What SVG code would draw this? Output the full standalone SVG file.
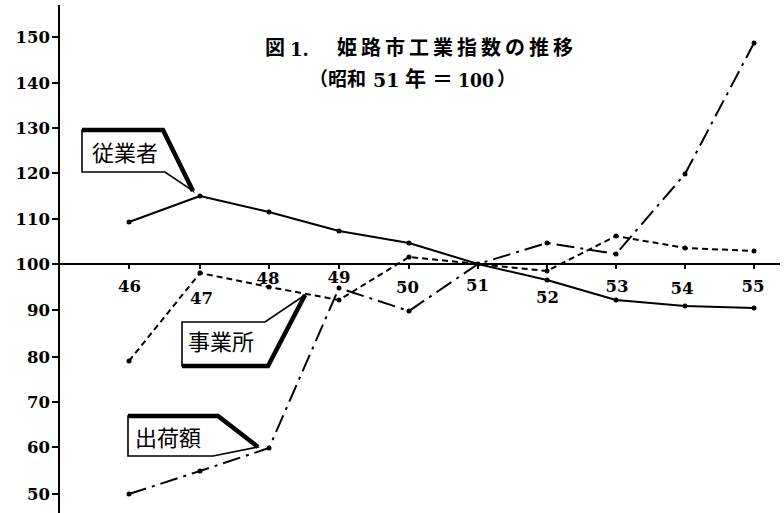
<svg xmlns="http://www.w3.org/2000/svg" width="784" height="513" viewBox="0 0 784 513">
<style>
.num{font-family:"DejaVu Serif","Liberation Serif",serif;font-weight:bold;font-size:16.5px;fill:#000}
.ttl{font-family:"Noto Sans CJK JP","Noto Sans",sans-serif;font-weight:bold;font-size:20px;fill:#000}
.lbl{font-family:"Noto Sans CJK JP","Noto Sans",sans-serif;font-size:22px;fill:#000}
.ax{stroke:#000;stroke-width:2;fill:none}
.ser{fill:none;stroke:#000;stroke-width:2;stroke-linejoin:round}
.s1{}
.s2{stroke-dasharray:6 4}
.s3{stroke-dasharray:18 6 3 6}
.thin{fill:#fff;stroke:#000;stroke-width:1.6;stroke-linejoin:miter}
.thick{fill:none;stroke:#000;stroke-width:4.5;stroke-linejoin:miter}
.pt{fill:#000}
</style>
<rect width="784" height="513" fill="#fff"/>
<g id="axes">
<line class="ax" x1="59" y1="5" x2="59" y2="513"/>
<line class="ax" x1="59" y1="264" x2="780" y2="264"/>
<path class="ax" stroke-width="1.5" d="M52,37H59M52,83H59M52,128H59M52,173H59M52,219H59M52,264H59M52,310H59M52,357H59M52,402H59M52,447H59M52,494H59"/>
<path class="ax" stroke-width="1.5" d="M129,264V269M200,264V269M269,264V269M339,264V269M409,264V269M478,264V269M547,264V269M616,264V269M685,264V269M754,264V269"/>
<g class="num" text-anchor="end">
<text x="50" y="43">150</text>
<text x="50" y="89">140</text>
<text x="50" y="134">130</text>
<text x="50" y="179">120</text>
<text x="50" y="225">110</text>
<text x="50" y="270">100</text>
<text x="50" y="316">90</text>
<text x="50" y="363">80</text>
<text x="50" y="408">70</text>
<text x="50" y="453">60</text>
<text x="50" y="500">50</text>
</g>
<g class="num" text-anchor="middle">
<text x="129.5" y="292">46</text>
<text x="201.5" y="304">47</text>
<text x="268" y="284">48</text>
<text x="339" y="283">49</text>
<text x="407.5" y="293">50</text>
<text x="477.5" y="291">51</text>
<text x="547.5" y="303">52</text>
<text x="617" y="292">53</text>
<text x="682" y="294">54</text>
<text x="753" y="292">55</text>
</g>
</g>
<g id="title">
<text class="ttl" x="265" y="55">図</text>
<text class="num" x="290" y="56" style="font-size:18px">1.</text>
<text class="ttl" x="337" y="55" textLength="236" lengthAdjust="spacing">姫路市工業指数の推移</text>
<text class="ttl" x="309" y="86" style="font-size:19px">（昭和</text>
<text class="num" x="373" y="87" style="font-size:19px">51</text>
<text class="ttl" x="405" y="86" style="font-size:21px">年</text>
<text class="ttl" x="432" y="86" style="font-size:21px">＝</text>
<text class="num" x="458" y="87" style="font-size:19px" textLength="36" lengthAdjust="spacingAndGlyphs">100</text>
<text class="ttl" x="497" y="86" style="font-size:19px">）</text>
</g>
<g id="connectors">
<polyline id="series-jugyosha" class="ser s1" points="129,222 200,196 269,212 339,231 409,243 478,264 547,280 616,300 685,306 754,308"/>
<polyline id="series-jigyosho" class="ser s2" points="129,361 200,273 269,287 339,300 409,257 478,264 547,271 616,236 685,248 754,251"/>
<polyline id="series-shukkagaku" class="ser s3" points="129,494 200,471 269,448 339,288 409,311 478,264 547,243 616,254 685,174 754,43"/>
<g class="pt">
<circle cx="129" cy="222" r="2.5"/><circle cx="200" cy="196" r="2.5"/><circle cx="269" cy="212" r="2.5"/><circle cx="339" cy="231" r="2.5"/><circle cx="409" cy="243" r="2.5"/><circle cx="478" cy="264" r="2.5"/><circle cx="547" cy="280" r="2.5"/><circle cx="616" cy="300" r="2.5"/><circle cx="685" cy="306" r="2.5"/><circle cx="754" cy="308" r="2.5"/>
<circle cx="129" cy="361" r="2.5"/><circle cx="200" cy="273" r="2.5"/><circle cx="269" cy="287" r="2.5"/><circle cx="339" cy="300" r="2.5"/><circle cx="409" cy="257" r="2.5"/><circle cx="547" cy="271" r="2.5"/><circle cx="616" cy="236" r="2.5"/><circle cx="685" cy="248" r="2.5"/><circle cx="754" cy="251" r="2.5"/>
<circle cx="129" cy="494" r="2.5"/><circle cx="200" cy="471" r="2.5"/><circle cx="269" cy="448" r="2.5"/><circle cx="339" cy="288" r="2.5"/><circle cx="409" cy="311" r="2.5"/><circle cx="547" cy="243" r="2.5"/><circle cx="616" cy="254" r="2.5"/><circle cx="685" cy="174" r="2.5"/><circle cx="754" cy="43" r="2.5"/>
</g>
</g>
<g id="callout-jugyosha">
<path class="thin" d="M82,130 L163,130 L193,191 L165,172 L82,172 Z"/>
<path class="thick" d="M82,130 L163,130 L193,191"/>
<text class="lbl" x="92" y="161">従業者</text>
</g>
<g id="callout-jigyosho">
<path class="thin" d="M182,322 L265,322 L305,295 L268,366 L182,366 Z"/>
<path class="thick" d="M182,366 L268,366 L305,295"/>
<text class="lbl" x="188" y="350">事業所</text>
</g>
<g id="callout-shukkagaku">
<path class="thin" d="M128,416 L218,416 L258,447 L213,456 L128,456 Z"/>
<path class="thick" d="M128,416 L218,416 L258,447"/>
<text class="lbl" x="135" y="446">出荷額</text>
</g>
</svg>
